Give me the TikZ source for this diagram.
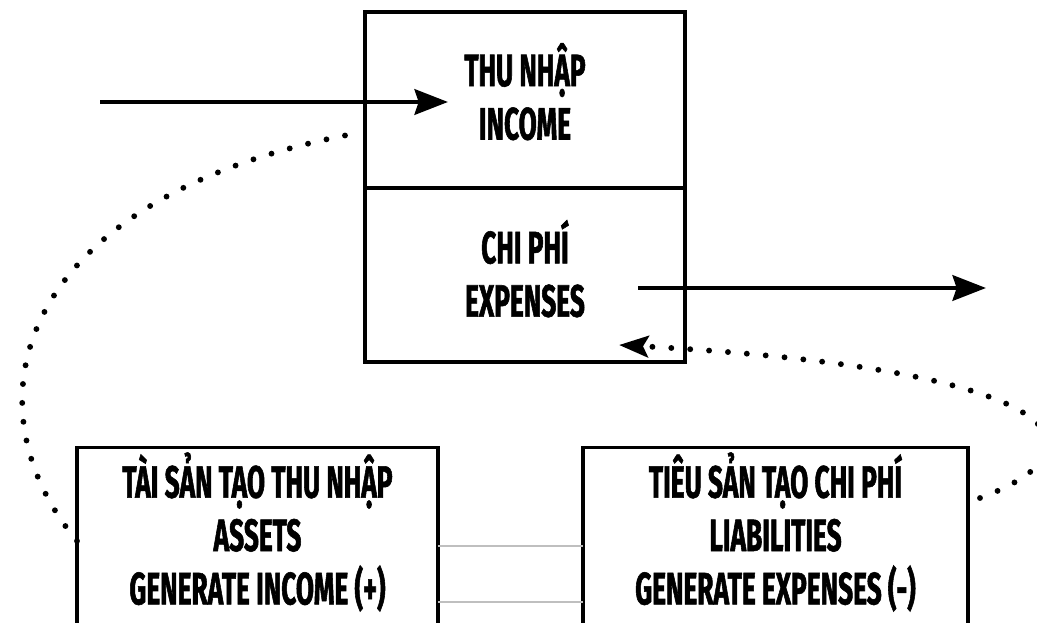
\documentclass[tikz,border=0pt]{standalone}
\usepackage{fontspec}
\setmainfont{Fira Sans}[FakeStretch=0.58, BoldFeatures={FakeBold=1.2}]
\usetikzlibrary{arrows.meta,positioning}

\begin{document}
\begin{tikzpicture}[x=0.75pt,y=-0.75pt,
		node distance=0pt,
		box/.style={draw, line width=2.4pt, outer sep=0pt, align=center, font=\bfseries\fontsize{34}{40}\selectfont},
		arr/.style={-{Stealth[length=25pt,width=19pt,inset=3pt]}, line width=3.6pt},
		dots/.style={line width=4.4pt, line cap=round, dash pattern=on 0pt off 14.2pt},
		link/.style={draw=black!25, line width=0.8pt}
		]
		\useasboundingbox[fill=white] (0,0) rectangle (1037,623);
		
		\node[box, minimum width=240pt, minimum height=132pt, text depth=13pt] (income) at (525,100) {THU NHẬP\\INCOME};
		\node[box, minimum width=240pt, minimum height=130.5pt, text depth=10pt, below=of income] (expense) {CHI PHÍ\\EXPENSES};
		
		\node[box, minimum width=270.75pt, minimum height=136.5pt, text depth=19pt] (assets) at (257.5,541) {TÀI SẢN TẠO THU NHẬP\\ASSETS\\GENERATE INCOME (+)};
		\node[box, minimum width=288.75pt, minimum height=136.5pt, text depth=19pt] (liab) at (775.5,541) {TIÊU SẢN TẠO CHI PHÍ\\LIABILITIES\\GENERATE EXPENSES (-)};
		
		% free ends of the arrows
		\coordinate (incsrc) at (100,102);
		\coordinate (incin) at (448,102);
		\coordinate (expout) at (638,288);
		\coordinate (expdst) at (986,288);
		\coordinate (backin) at (358,133);
		\coordinate (backexp) at (619,345);
		\coordinate (liabout) at (980,498);
		
		\draw[arr] (incsrc) -- (incin);
		\draw[arr] (expout) -- (expdst);
		
		\draw[link] ([yshift=-3.75pt]assets.east) -- ([yshift=-3.75pt]liab.west);
		\draw[link] ([yshift=-45.75pt]assets.east) -- ([yshift=-45.75pt]liab.west);
		
		% dotted loops back to the top box
		\draw[dots] (assets.west) .. controls (-40,400) and (20,195) .. (backin);
		\draw[dots, -{Stealth[length=22pt,width=16pt,inset=4pt]}] (liabout) .. controls (1110,450) and (1080,370) .. (backexp);
	\end{tikzpicture}
\end{document}
